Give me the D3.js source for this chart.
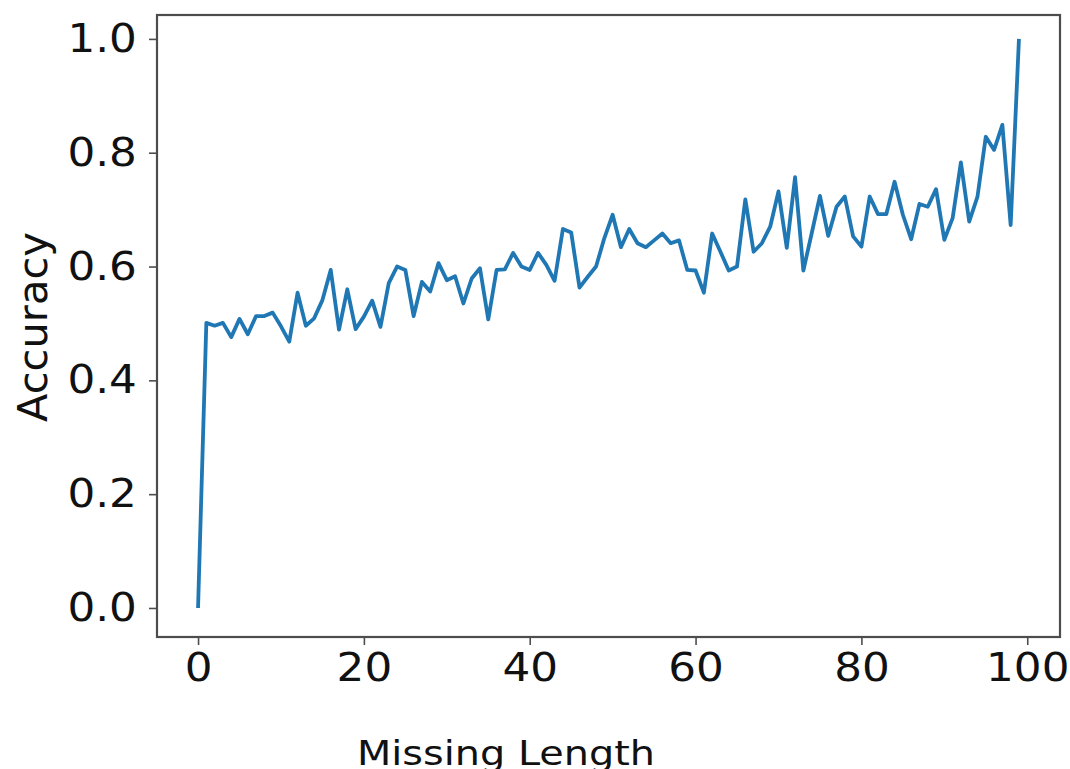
<!DOCTYPE html>
<html>
<head>
<meta charset="utf-8">
<script src="https://cdn.jsdelivr.net/npm/d3@7"></script>
<style>
	body { margin: 0; background: #ffffff; }
	svg { display: block; }
</style>
</head>
<body>
<div id="chart"></div>
<script>
// accuracy for each missing length (index = missing length)
var accuracy = [
	0.000, 0.501, 0.496, 0.501, 0.476, 0.508, 0.481, 0.513, 0.513, 0.519,
	0.495, 0.468, 0.554, 0.496, 0.509, 0.541, 0.594, 0.489, 0.560, 0.490,
	0.512, 0.540, 0.494, 0.571, 0.600, 0.594, 0.513, 0.573, 0.556, 0.606,
	0.576, 0.583, 0.535, 0.579, 0.597, 0.507, 0.594, 0.595, 0.624, 0.600,
	0.594, 0.624, 0.603, 0.575, 0.666, 0.660, 0.563, 0.582, 0.600, 0.650,
	0.691, 0.634, 0.666, 0.641, 0.634, 0.646, 0.658, 0.641, 0.646, 0.594,
	0.593, 0.554, 0.658, 0.626, 0.593, 0.600, 0.718, 0.626, 0.641, 0.670,
	0.732, 0.633, 0.757, 0.593, 0.658, 0.724, 0.654, 0.705, 0.723, 0.653,
	0.635, 0.723, 0.692, 0.692, 0.749, 0.691, 0.648, 0.710, 0.705, 0.736,
	0.647, 0.685, 0.783, 0.679, 0.723, 0.828, 0.805, 0.849, 0.673, 1.000
];
var xTicks = [0, 20, 40, 60, 80, 100];
var yTicks = [0.0, 0.2, 0.4, 0.6, 0.8, 1.0];
var xTitle = "Missing Length";
var yTitle = "Accuracy";

var width = 1070, height = 769;
var plot = {left: 157, right: 1060, top: 15, bottom: 637};
var lineColor = "#1f77b4";
var spineColor = "#4d4d4d";
var tickFont = "39px 'DejaVu Sans'";

var svg = d3.select("#chart").append("svg")
	.attr("width", width)
	.attr("height", height);

var x = d3.scaleLinear()
	.domain([-4.95, 103.95])
	.range([plot.left, plot.right]);

var y = d3.scaleLinear()
	.domain([-0.051, 1.042])
	.range([plot.bottom, plot.top]);

// x axis
var xaxis = svg.append("g")
	.attr("class", "x-axis")
	.attr("transform", "translate(0," + plot.bottom + ")")
	.call(d3.axisBottom(x).tickValues(xTicks).tickSizeInner(8).tickSizeOuter(0).tickPadding(8).tickFormat(d3.format("d")));

// y axis
var yaxis = svg.append("g")
	.attr("class", "y-axis")
	.attr("transform", "translate(" + plot.left + ",0)")
	.call(d3.axisLeft(y).tickValues(yTicks).tickSizeInner(8).tickSizeOuter(0).tickPadding(10).tickFormat(d3.format(".1f")));

svg.selectAll(".x-axis, .y-axis").select(".domain").remove();
svg.selectAll(".tick line")
	.attr("stroke", spineColor)
	.attr("stroke-width", 1.6);
svg.selectAll(".tick text")
	.attr("fill", "#111")
	.style("font", tickFont);
// the picture is a little wider than tall, stretch the labels the same way
xaxis.selectAll(".tick text").attr("transform", "scale(1.12,1)");
yaxis.selectAll(".tick text").attr("transform", "scale(1.12,1)");

// frame round the plot
svg.append("rect")
	.attr("x", plot.left)
	.attr("y", plot.top)
	.attr("width", plot.right - plot.left)
	.attr("height", plot.bottom - plot.top)
	.attr("fill", "none")
	.attr("stroke", spineColor)
	.attr("stroke-width", 2.2);

// the accuracy line
var line = d3.line()
	.x(function(d, i) { return x(i); })
	.y(function(d) { return y(d); });

svg.append("path")
	.datum(accuracy)
	.attr("d", line)
	.attr("fill", "none")
	.attr("stroke", lineColor)
	.attr("stroke-width", 3.8)
	.attr("stroke-linejoin", "round");

// axis titles
svg.append("text")
	.attr("x", 506)
	.attr("y", 765)
	.attr("text-anchor", "middle")
	.attr("textLength", 298)
	.attr("lengthAdjust", "spacingAndGlyphs")
	.attr("fill", "#111")
	.style("font", "33px 'DejaVu Sans'")
	.text(xTitle);

svg.append("text")
	.attr("transform", "translate(47," + 327 + ") rotate(-90)")
	.attr("text-anchor", "middle")
	.attr("textLength", 190)
	.attr("lengthAdjust", "spacingAndGlyphs")
	.attr("fill", "#111")
	.style("font", "41px 'DejaVu Sans'")
	.text(yTitle);
</script>
</body>
</html>
